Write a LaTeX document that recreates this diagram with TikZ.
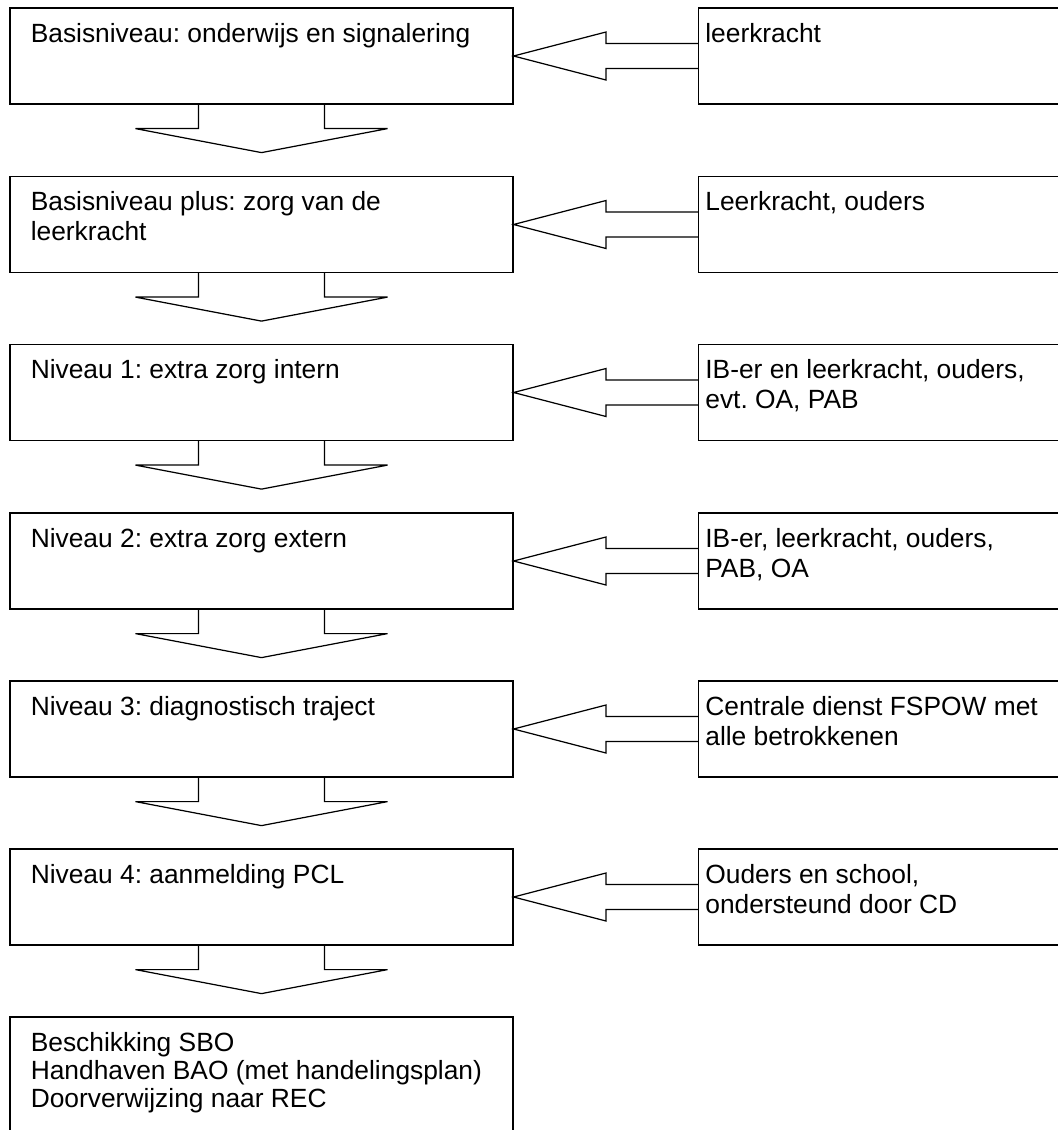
\documentclass[tikz,border=0pt]{standalone}
\usepackage{fontspec}
\setmainfont{Liberation Sans}
\usetikzlibrary{calc}
\frenchspacing

\newcommand{\regels}[1]{\begin{tabular}[t]{@{}l@{}}#1\end{tabular}}

\tikzset{
  lvbox/.style={draw, line width=0.7pt, minimum width=10.06cm, minimum height=1.92cm, inner sep=0pt},
  wiebox/.style={draw, line width=0.7pt, minimum width=8cm, minimum height=1.92cm, inner sep=0pt, anchor=west},
  txt/.style={anchor=base west, inner sep=0pt, font=\fontsize{15pt}{17pt}\selectfont},
  blok/.style={draw, line width=0.7pt, line join=miter}
}

\begin{document}
\begin{tikzpicture}[x=0.02cm, y=-0.02cm]
  \useasboundingbox (0,0) rectangle (1058,1130);
  \clip (0,0) rectangle (1058,1130);

  \foreach \i/\y/\lt/\rt in {
      1/56/{Basisniveau: onderwijs en signalering}/{leerkracht},
      2/224.5/{Basisniveau plus: zorg van de\\leerkracht}/{Leerkracht, ouders},
      3/392.5/{Niveau 1: extra zorg intern}/{IB-er en leerkracht, ouders,\\evt. OA, PAB},
      4/561/{Niveau 2: extra zorg extern}/{IB-er, leerkracht, ouders,\\PAB, OA},
      5/729/{Niveau 3: diagnostisch traject}/{Centrale dienst FSPOW met\\alle betrokkenen},
      6/897/{Niveau 4: aanmelding PCL}/{Ouders en school,\\ondersteund door CD}} {
    \node[lvbox] (lv\i) at (261.5,\y) {};
    \node[wiebox] (wie\i) at (698,\y) {};
    \node[txt] (lt\i) at ($(lv\i.north west)+(21,35)$) {\regels{\lt}};
    \node[txt] (rt\i) at ($(wie\i.north west)+(7,35)$) {\regels{\rt}};
    % pijl van rechts naar links
    \draw[blok] ($(wie\i.west)+(0,-12.5)$) -- ($(wie\i.west)+(-92,-12.5)$) -- ($(wie\i.west)+(-92,-24)$)
      -- (lv\i.east) -- ($(wie\i.west)+(-92,24)$) -- ($(wie\i.west)+(-92,12.5)$) -- ($(wie\i.west)+(0,12.5)$);
    % pijl naar beneden
    \draw[blok] ($(lv\i.south)+(-63,0)$) -- ++(0,24) -- ++(-63,0) -- ($(lv\i.south)+(0,48)$)
      -- ($(lv\i.south)+(126,24)$) -- ++(-63,0) -- ++(0,-24);
  }

  \node[lvbox, minimum height=2.8cm] (lv7) at (261.5,1087) {};
  \node[txt, font=\fontsize{15pt}{16pt}\selectfont] (lt7) at ($(lv7.north west)+(21,35)$)
    {\regels{Beschikking SBO\\Handhaven BAO (met handelingsplan)\\Doorverwijzing naar REC}};
\end{tikzpicture}
\end{document}
